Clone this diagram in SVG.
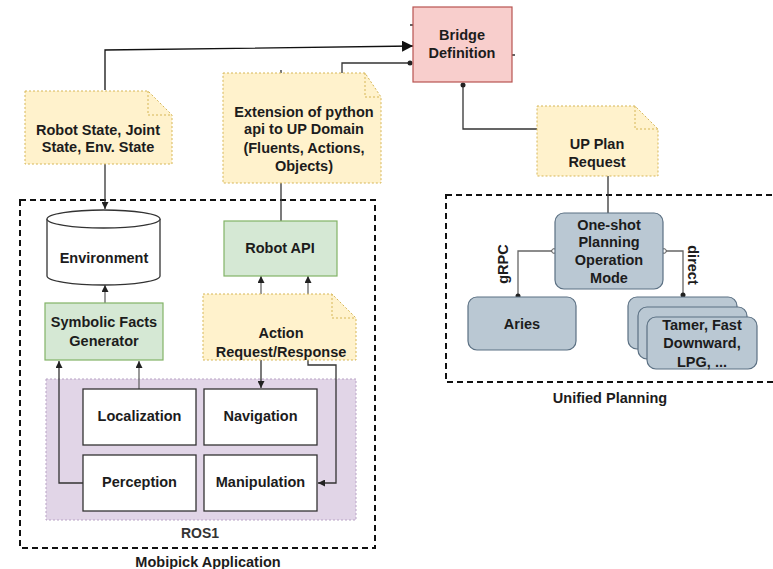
<svg xmlns="http://www.w3.org/2000/svg" width="773" height="569" viewBox="0 0 773 569">
  <style>
    text { font-family: "Liberation Sans", Arial, sans-serif; font-weight: bold; font-size: 14.5px; fill: #1c1c1c; text-anchor: middle; }
    .note { fill: #fff2cc; stroke: #d6b656; stroke-width: 1; stroke-dasharray: 2 2; }
    .fold { fill: none; stroke: #d6b656; stroke-width: 1; stroke-dasharray: 2 2; }
    .green { fill: #d5e8d4; stroke: #82b366; stroke-width: 1.2; }
    .pink { fill: #f8cecc; stroke: #b85450; stroke-width: 1.2; }
    .slate { fill: #bac8d3; stroke: #5b7083; stroke-width: 1.2; }
    .white { fill: #ffffff; stroke: #333333; stroke-width: 1.3; }
    .group { fill: none; stroke: #111111; stroke-width: 2; stroke-dasharray: 6 4; }
    .ros { fill: #e1d5e7; stroke: #b9a3c6; stroke-width: 1; stroke-dasharray: 2 2; }
    .edge { fill: none; stroke: #333333; stroke-width: 1.3; }
    .edge.light { stroke: #666666; }
    .dot { fill: #222222; }
    .ring { fill: #ffffff; stroke: #555555; stroke-width: 1; }
  </style>
  <defs>
    <marker id="tri" viewBox="0 0 10 10" refX="10" refY="5" markerWidth="7" markerHeight="7" markerUnits="userSpaceOnUse" orient="auto">
      <path d="M0 0 L10 5 L0 10 Z" fill="#222222"/>
    </marker>
    <marker id="triBig" viewBox="0 0 10 10" refX="10" refY="5" markerWidth="11" markerHeight="11" markerUnits="userSpaceOnUse" orient="auto">
      <path d="M0 0 L10 5 L0 10 Z" fill="#111111"/>
    </marker>
  </defs>

  <!-- container groups -->
  <g id="mobipick-application">
    <rect class="group" x="20" y="200" width="355" height="348"/>
    <text x="208" y="567">Mobipick Application</text>
  </g>
  <g id="ros1">
    <rect class="ros" x="46" y="379" width="310" height="141"/>
    <text x="200" y="538" style="font-size:14px;fill:#333333">ROS1</text>
  </g>
  <g id="unified-planning">
    <rect class="group" x="446" y="195" width="340" height="187"/>
    <text x="610" y="403">Unified Planning</text>
  </g>

  <!-- connectors -->
  <g id="connectors">
    <!-- state note to bridge -->
    <path class="edge" d="M105 90 V50 L413 46" style="stroke:#111111" marker-end="url(#triBig)"/>
    <!-- python api extension to bridge -->
    <path class="edge" d="M342 73 V63 H410"/>
    <circle class="dot" cx="410" cy="63" r="2.5"/>
    <!-- bridge to UP plan request -->
    <path class="edge" d="M463 85 V129 H537"/>
    <circle class="dot" cx="463" cy="85" r="2.5"/>
    <!-- UP plan request to one-shot mode -->
    <path class="edge" d="M608 176 V213"/>
    <!-- one-shot to Aries (gRPC) -->
    <path class="edge light" d="M552 251 H518 V297"/>
    <circle class="ring" cx="554" cy="251" r="2.3"/>
    <circle class="dot" cx="518" cy="296" r="2.5"/>
    <!-- one-shot to planners (direct) -->
    <path class="edge light" d="M666 251 H683 V296"/>
    <circle class="ring" cx="664" cy="251" r="2.3"/>
    <circle class="dot" cx="683" cy="295" r="2.5"/>
    <!-- robot state note to environment -->
    <path class="edge" d="M105 164 V209" marker-end="url(#tri)"/>
    <!-- extension note to robot API -->
    <path class="edge" d="M281 183 V221"/>
    <!-- action request/response to robot API -->
    <path class="edge light" d="M261 294 V276" marker-end="url(#tri)"/>
    <path class="edge light" d="M308 294 V276" marker-end="url(#tri)"/>
    <!-- action request/response to navigation -->
    <path class="edge" d="M261 360 V388" marker-end="url(#tri)"/>
    <!-- action request/response to manipulation -->
    <path class="edge" d="M308 360 V365 H336 V483 H318" marker-end="url(#tri)"/>
    <!-- symbolic facts generator to environment -->
    <path class="edge light" d="M105 303 V285" marker-end="url(#tri)"/>
    <!-- localization to symbolic facts generator -->
    <path class="edge light" d="M139 389 V361" marker-end="url(#tri)"/>
    <!-- perception to symbolic facts generator -->
    <path class="edge" d="M83 483 H59 V361" marker-end="url(#tri)"/>
    <!-- small port ticks -->
    <path class="edge" d="M410 25 H413 M512 55 H515 M281 70 V73"/>
  </g>

  <!-- nodes -->
  <g id="bridge-definition">
    <rect class="pink" x="413" y="7" width="99" height="75"/>
    <text x="462" y="40">Bridge</text>
    <text x="462" y="58">Definition</text>
  </g>

  <g id="robot-state-note">
    <path class="note" d="M25 91 H148 L172 115 V164 H25 Z"/>
    <path class="fold" d="M148 91 V115 H172"/>
    <text x="98" y="135">Robot State, Joint</text>
    <text x="98" y="152">State, Env. State</text>
  </g>

  <g id="python-api-note">
    <path class="note" d="M223 73 H365 L381 97 V183 H223 Z"/>
    <path class="fold" d="M365 73 V97 H381"/>
    <text x="304" y="117">Extension of python</text>
    <text x="304" y="134">api to UP Domain</text>
    <text x="304" y="153">(Fluents, Actions,</text>
    <text x="304" y="171">Objects)</text>
  </g>

  <g id="up-plan-request">
    <path class="note" d="M537 106 H635 L658 129 V176 H537 Z"/>
    <path class="fold" d="M635 106 V129 H658"/>
    <text x="597" y="149">UP Plan</text>
    <text x="597" y="167">Request</text>
  </g>

  <g id="one-shot-mode">
    <rect class="slate" x="555" y="213" width="108" height="76" rx="9"/>
    <text x="609" y="230">One-shot</text>
    <text x="609" y="247">Planning</text>
    <text x="609" y="265">Operation</text>
    <text x="609" y="283">Mode</text>
  </g>

  <g id="grpc-label">
    <text transform="translate(508 264) rotate(-90)">gRPC</text>
  </g>
  <g id="direct-label">
    <text transform="translate(688 265) rotate(90)">direct</text>
  </g>

  <g id="aries">
    <rect class="slate" x="468" y="297" width="108" height="53" rx="9"/>
    <text x="522" y="329">Aries</text>
  </g>

  <g id="planners">
    <rect class="slate" x="628" y="297" width="109" height="52" rx="9"/>
    <rect class="slate" x="638" y="307" width="109" height="52" rx="9"/>
    <rect class="slate" x="647" y="317" width="110" height="52" rx="9"/>
    <text x="702" y="330">Tamer, Fast</text>
    <text x="702" y="348">Downward,</text>
    <text x="702" y="367">LPG, ...</text>
  </g>

  <g id="environment">
    <path class="white" d="M47 219 V276 A56.5 9 0 0 0 160 276 V219"/>
    <ellipse class="white" cx="103.5" cy="219" rx="56.5" ry="9"/>
    <text x="104" y="263">Environment</text>
  </g>

  <g id="robot-api">
    <rect class="green" x="224" y="221" width="113" height="55"/>
    <text x="280" y="253">Robot API</text>
  </g>

  <g id="symbolic-facts-generator">
    <rect class="green" x="45" y="303" width="118" height="57"/>
    <text x="104" y="327">Symbolic Facts</text>
    <text x="104" y="346">Generator</text>
  </g>

  <g id="action-request-note">
    <path class="note" d="M203 294 H332 L356 318 V360 H203 Z"/>
    <path class="fold" d="M332 294 V318 H356"/>
    <text x="281" y="338">Action</text>
    <text x="281" y="357">Request/Response</text>
  </g>

  <g id="localization">
    <rect class="white" x="83" y="389" width="113" height="56"/>
    <text x="139.5" y="421">Localization</text>
  </g>
  <g id="navigation">
    <rect class="white" x="204" y="389" width="113" height="56"/>
    <text x="260.5" y="421">Navigation</text>
  </g>
  <g id="perception">
    <rect class="white" x="83" y="455" width="113" height="56"/>
    <text x="139.5" y="487">Perception</text>
  </g>
  <g id="manipulation">
    <rect class="white" x="204" y="455" width="113" height="56"/>
    <text x="260.5" y="487">Manipulation</text>
  </g>
</svg>
